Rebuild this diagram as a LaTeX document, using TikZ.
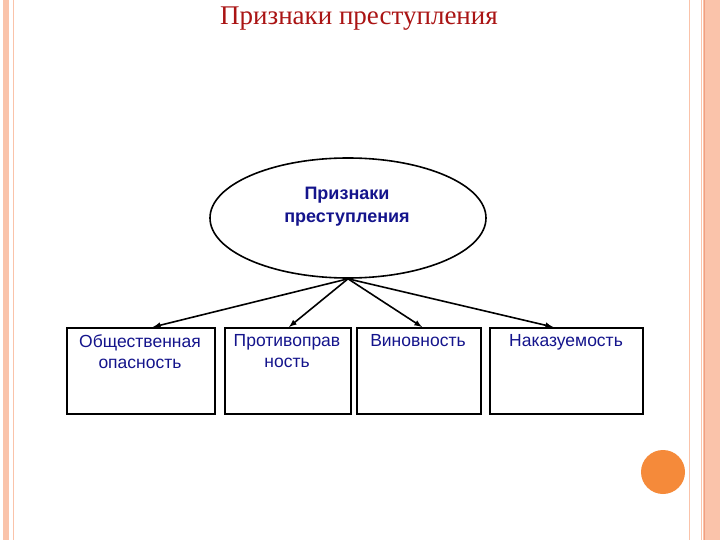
\documentclass[tikz,border=0pt]{standalone}
\usepackage{fontspec}
\usetikzlibrary{shapes.geometric}
\setmainfont{Liberation Serif}
\newfontfamily\arialf{Liberation Sans}
\definecolor{pinkb}{RGB}{250,195,170}
\definecolor{pinkd}{RGB}{240,160,130}
\definecolor{titlered}{RGB}{170,20,20}
\definecolor{txtblue}{RGB}{20,20,140}
\definecolor{orng}{RGB}{245,138,58}
\begin{document}
\begin{tikzpicture}[x=1pt,y=-1pt,
  box/.style={draw,line width=1.6pt,minimum width=#1,minimum height=86pt,inner sep=0pt,anchor=north west},
  lbl/.style={font=\arialf\fontsize{17.5}{21}\selectfont,text=txtblue,align=center,anchor=north},
  arr/.style={line width=1.6pt,-latex}]
\useasboundingbox (0,0) rectangle (720,540);
\fill[white] (0,0) rectangle (720,540);
\fill[pinkb] (3,0) rectangle (9,540);
\draw[pinkb,line width=0.8pt] (13.5,0) -- (13.5,540);
\draw[pinkb,line width=0.8pt] (689.5,0) -- (689.5,540);
\draw[pinkb,line width=0.8pt] (701.5,0) -- (701.5,540);
\fill[pinkb] (703,0) rectangle (720,540);
\draw[pinkd,line width=0.8pt] (704,0) -- (704,540);
\node[font=\fontsize{27}{30}\selectfont,text=titlered] (title) at (359,19) {Признаки преступления};
\node[draw,ellipse,line width=1.6pt,minimum width=276pt,minimum height=120pt,inner sep=0pt] (e) at (348,218) {};
\node[font=\arialf\bfseries\fontsize{18}{23}\selectfont,text=txtblue,align=center] (et) at (347,207) {Признаки\\преступления};
\node[box=148pt] (b1) at (66,327) {};
\node[box=126pt] (b2) at (224,327) {};
\node[box=124pt] (b3) at (356,327) {};
\node[box=153pt] (b4) at (489,327) {};
\node[lbl] (t1) at (140,331) {Общественная\\опасность};
\node[lbl] (t2) at (287,331) {Противоправ\\ность};
\node[lbl] (t3) at (418,331) {Виновность};
\node[lbl] (t4) at (566,331) {Наказуемость};
\coordinate (c1) at (153,327);
\coordinate (c2) at (289,327);
\coordinate (c3) at (422,327);
\coordinate (c4) at (553,327);
\draw[arr] (e.south) -- (c1);
\draw[arr] (e.south) -- (c2);
\draw[arr] (e.south) -- (c3);
\draw[arr] (e.south) -- (c4);
\fill[orng] (663,472) circle (22);
\end{tikzpicture}
\end{document}
